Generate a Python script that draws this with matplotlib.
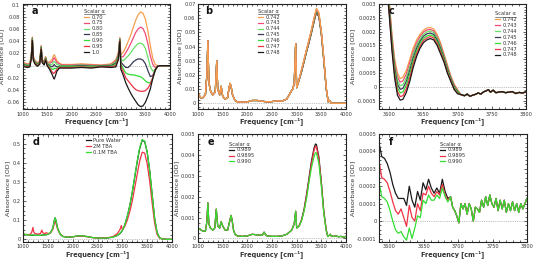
import matplotlib
matplotlib.use('Agg')
import matplotlib.pyplot as plt
from matplotlib.ticker import MultipleLocator, FuncFormatter
from matplotlib.lines import Line2D

# ---------------- Panel a : difference spectra, scalar 0.70 ... 1.0 ----------------
freq_a = [1000,1050,1100,1150,1180,1200,1220,1250,1300,1350,
          1380,1400,1440,1470,1500,1550,1600,1630,1645,1660,
          1700,1750,1800,2000,2200,2400,2600,2800,2900,2950,
          2980,3000,3050,3100,3150,3200,3250,3300,3350,3400,
          3450,3500,3550,3600,3650,3700,3750,3800,4000]
a_070 = [0.008,0.004,0.003,0.004,0.018,0.047,0.015,0.009,0.005,0.008,
         0.033,0.011,0.007,0.015,0.006,0.006,0.010,0.016,0.018,0.016,
         0.008,0.004,0.002,0.002,0.003,0.002,0.001,0.003,0.010,0.022,
         0.046,0.018,0.022,0.030,0.040,0.050,0.062,0.074,0.083,0.088,
         0.086,0.076,0.057,0.033,0.012,0.002,0.0,0.0,0.0]
a_075 = [0.0065,0.003,0.002,0.003,0.017,0.046,0.014,0.008,0.004,0.007,
         0.032,0.010,0.006,0.014,0.005,0.004,0.006,0.011,0.013,0.011,
         0.005,0.003,0.001,0.001,0.002,0.001,0.0005,0.002,0.008,0.020,
         0.045,0.014,0.015,0.021,0.028,0.036,0.045,0.054,0.060,0.063,
         0.061,0.052,0.036,0.016,0.002,-0.003,-0.001,0.0,0.0]
a_080 = [0.005,0.002,0.001,0.002,0.016,0.045,0.013,0.007,0.003,0.006,
         0.031,0.009,0.005,0.013,0.004,0.002,0.002,0.006,0.007,0.006,
         0.002,0.001,0.0,0.0,0.001,0.0,0.0,0.001,0.006,0.018,
         0.044,0.010,0.008,0.012,0.016,0.021,0.027,0.032,0.036,0.037,
         0.035,0.028,0.014,-0.002,-0.009,-0.006,-0.001,0.0,0.0]
a_085 = [0.0035,0.001,0.0,0.001,0.015,0.044,0.012,0.006,0.002,0.005,
         0.030,0.008,0.004,0.012,0.003,0.0,-0.002,0.0,0.002,0.0,
         -0.002,-0.001,-0.001,-0.001,0.0,-0.001,-0.0005,0.0,0.004,0.016,
         0.043,0.006,0.001,-0.003,-0.003,0.001,0.006,0.009,0.011,0.011,
         0.009,0.003,-0.008,-0.018,-0.016,-0.007,-0.001,0.0,0.0]
a_090 = [0.002,0.0,-0.001,0.0,0.014,0.043,0.011,0.005,0.001,0.004,
         0.029,0.007,0.003,0.011,0.002,-0.002,-0.006,-0.006,-0.004,-0.005,
         -0.004,-0.002,-0.002,-0.002,-0.001,-0.002,-0.001,-0.001,0.002,0.014,
         0.042,0.002,-0.005,-0.012,-0.014,-0.015,-0.015,-0.016,-0.017,-0.018,
         -0.021,-0.025,-0.028,-0.028,-0.021,-0.008,-0.001,0.0,0.0]
a_095 = [0.0005,-0.001,-0.002,-0.001,0.013,0.042,0.010,0.004,0.0,0.003,
         0.028,0.006,0.002,0.010,0.001,-0.004,-0.010,-0.013,-0.012,-0.011,
         -0.006,-0.003,-0.003,-0.003,-0.002,-0.003,-0.0015,-0.002,0.0,0.012,
         0.041,-0.002,-0.010,-0.020,-0.025,-0.030,-0.035,-0.039,-0.041,-0.042,
         -0.042,-0.041,-0.037,-0.030,-0.019,-0.007,-0.001,0.0,0.0]
a_100 = [-0.001,-0.002,-0.003,-0.002,0.012,0.041,0.009,0.003,-0.001,0.002,
         0.027,0.005,0.001,0.009,0.0,-0.006,-0.014,-0.020,-0.022,-0.019,
         -0.009,-0.004,-0.004,-0.004,-0.003,-0.004,-0.002,-0.003,-0.002,0.010,
         0.040,-0.006,-0.016,-0.028,-0.037,-0.045,-0.052,-0.058,-0.064,-0.067,
         -0.066,-0.060,-0.050,-0.038,-0.021,-0.007,-0.001,0.0,0.0]
labels_a = ['0.70','0.75','0.80','0.85','0.90','0.95','1.0']

# ---------------- Panel b : scalar 0.742 ... 0.748 ----------------
freq_b_low = [1000,1020,1050,1100,1150,1180,1200,1220,1240,1260,
              1300,1350,1380,1400,1440,1470,1500,1550,1600,1630,
              1650,1670,1700,1750,1800,1900,2000,2100,2200,2300,
              2400,2500,2600,2700,2800,2880,2920,2950,2980]
b_low = [0.008,0.006,0.004,0.004,0.006,0.020,0.044,0.015,0.011,0.008,
         0.006,0.008,0.030,0.010,0.006,0.012,0.005,0.003,0.004,0.011,
         0.014,0.012,0.006,0.002,0.001,0.0008,0.001,0.002,0.002,0.0015,
         0.001,0.0012,0.0018,0.0015,0.003,0.008,0.010,0.014,0.042]
freq_b_high = [3000,3050,3100,3150,3200,3250,3300,3350,3400,3450,
               3500,3550,3600,3640,3660,3680,3700,3750,3800,3900,4000]
b_742 = [0.011,0.0170,0.0240,0.0310,0.0380,0.0450,0.0520,0.0600,0.0670,0.0640,0.0510,0.0320,0.0110,0.001,0.002,0.0015,0.0,0.0,0.0,0.0,0.0]
b_743 = [0.011,0.0169,0.0237,0.0307,0.0377,0.0446,0.0516,0.0595,0.0665,0.0635,0.0506,0.0317,0.0108,0.001,0.002,0.0015,0.0,0.0,0.0,0.0,0.0]
b_744 = [0.011,0.0168,0.0234,0.0304,0.0374,0.0442,0.0512,0.0590,0.0660,0.0630,0.0502,0.0314,0.0106,0.001,0.002,0.0015,0.0,0.0,0.0,0.0,0.0]
b_745 = [0.011,0.0167,0.0231,0.0301,0.0371,0.0438,0.0508,0.0585,0.0655,0.0625,0.0498,0.0311,0.0104,0.001,0.002,0.0015,0.0,0.0,0.0,0.0,0.0]
b_746 = [0.011,0.0166,0.0228,0.0298,0.0368,0.0434,0.0504,0.0580,0.0650,0.0620,0.0494,0.0308,0.0102,0.001,0.002,0.0015,0.0,0.0,0.0,0.0,0.0]
b_747 = [0.011,0.0165,0.0225,0.0295,0.0365,0.0430,0.0500,0.0575,0.0645,0.0615,0.0490,0.0305,0.0100,0.001,0.002,0.0015,0.0,0.0,0.0,0.0,0.0]
b_748 = [0.011,0.0164,0.0222,0.0292,0.0362,0.0426,0.0496,0.0570,0.0640,0.0610,0.0486,0.0302,0.0098,0.001,0.002,0.0015,0.0,0.0,0.0,0.0,0.0]
labels_bc = ['0.742','0.743','0.744','0.745','0.746','0.747','0.748']

# ---------------- Panel c : zoom 3585-3800 ----------------
freq_c_head = [3585,3590,3595,3600,3604,3608,3612,3616,3620,3625,3630,3635,3640,
               3645,3650,3655,3660,3665,3670,3675,3680,3685,3690,3695,3700]
c_742 = [0.0085,0.0065,0.0045,0.0031,0.0019,0.0010,0.0005,0.0003,0.00035,0.0006,0.0010,0.0014,0.0017,
         0.0019,0.00205,0.00213,0.00215,0.0021,0.0019,0.0016,0.0012,0.0008,0.0004,0.0001,-0.0001]
c_743 = [0.00842,0.00642,0.00442,0.00302,0.0018,0.00088,0.00037,0.00017,0.00022,0.00047,0.00087,0.00128,0.0016,
         0.00182,0.00198,0.00206,0.00208,0.00203,0.00183,0.00153,0.00115,0.00075,0.00037,0.00007,-0.00013]
c_744 = [0.00833,0.00633,0.00433,0.00293,0.0017,0.00077,0.00023,0.00004,0.00008,0.00033,0.00073,0.00117,0.0015,
         0.00173,0.0019,0.00199,0.00202,0.00197,0.00177,0.00147,0.0011,0.0007,0.00033,0.00003,-0.00015]
c_745 = [0.00825,0.00625,0.00425,0.00285,0.0016,0.00065,0.0001,-0.00009,-0.00005,0.0002,0.0006,0.00105,0.0014,
         0.00165,0.00183,0.00192,0.00195,0.0019,0.0017,0.0014,0.00105,0.00065,0.0003,0.0,-0.00018]
c_746 = [0.00817,0.00617,0.00417,0.00277,0.0015,0.00053,-0.00003,-0.00022,-0.00018,0.00007,0.00047,0.00093,0.0013,
         0.00157,0.00175,0.00184,0.00188,0.00183,0.00163,0.00133,0.001,0.0006,0.00027,-0.00003,-0.0002]
c_747 = [0.00808,0.00608,0.00408,0.00268,0.0014,0.00042,-0.00017,-0.00035,-0.00032,-0.00007,0.00033,0.00082,0.0012,
         0.00148,0.00168,0.00177,0.00182,0.00177,0.00157,0.00127,0.00095,0.00055,0.00023,-0.00007,-0.00023]
c_748 = [0.0080,0.0060,0.0040,0.0026,0.0013,0.0003,-0.0003,-0.00048,-0.00045,-0.0002,0.0002,0.0007,0.0011,
         0.0014,0.0016,0.0017,0.00175,0.0017,0.0015,0.0012,0.0009,0.0005,0.0002,-0.0001,-0.00025]
freq_c_tail = [3705,3710,3714,3718,3722,3726,3730,3734,3738,3742,3745,3748,
               3752,3756,3760,3765,3770,3775,3780,3785,3790,3795,3800]
c_tail = [-0.00028,-0.00032,-0.00026,-0.00034,-0.0003,-0.00027,-0.00022,-0.00026,-0.00018,-0.00014,-0.0001,-0.00019,
          -0.00012,-0.00021,-0.00019,-0.00017,-0.00021,-0.00019,-0.00017,-0.00024,-0.0002,-0.00022,-0.00018]

# ---------------- Panel d : raw spectra ----------------
freq_d = [1000,1050,1100,1150,1180,1200,1220,1250,1300,1350,
          1380,1400,1440,1470,1500,1550,1600,1630,1645,1660,
          1700,1750,1800,1900,2000,2100,2200,2300,2400,2500,
          2600,2700,2800,2900,2950,2980,3000,3050,3100,3150,
          3200,3250,3300,3350,3400,3450,3500,3550,3600,3650,
          3700,3750,3800,3900,4000]
pure_water = [0.028,0.025,0.023,0.022,0.021,0.021,0.021,0.021,0.021,0.021,
              0.021,0.022,0.023,0.024,0.026,0.033,0.058,0.097,0.112,0.102,
              0.055,0.027,0.015,0.011,0.013,0.018,0.018,0.014,0.009,0.007,
              0.006,0.007,0.011,0.020,0.030,0.038,0.046,0.075,0.120,0.175,
              0.245,0.325,0.405,0.475,0.518,0.510,0.455,0.360,0.235,0.110,
              0.035,0.008,0.002,0.0,0.0]
tba_2M = [0.028,0.025,0.025,0.026,0.040,0.062,0.035,0.030,0.027,0.030,
          0.048,0.033,0.030,0.035,0.030,0.032,0.052,0.082,0.093,0.087,
          0.050,0.027,0.016,0.012,0.013,0.016,0.016,0.013,0.009,0.007,
          0.007,0.008,0.013,0.030,0.050,0.072,0.050,0.068,0.100,0.145,
          0.200,0.270,0.340,0.410,0.455,0.450,0.395,0.305,0.190,0.085,
          0.025,0.006,0.002,0.0,0.0]
tba_01M = [0.028,0.025,0.023,0.022,0.022,0.023,0.022,0.021,0.021,0.021,
           0.022,0.022,0.023,0.024,0.026,0.033,0.058,0.097,0.112,0.102,
           0.055,0.027,0.015,0.011,0.013,0.018,0.018,0.014,0.009,0.007,
           0.006,0.007,0.011,0.020,0.031,0.040,0.047,0.076,0.121,0.176,
           0.247,0.328,0.409,0.479,0.521,0.513,0.457,0.361,0.236,0.110,
           0.035,0.008,0.002,0.0,0.0]
labels_d = ['Pure Water','2M TBA','0.1M TBA']

# ---------------- Panel e : scalar 0.989 ... 0.990 ----------------
freq_e_low = [1000,1050,1100,1150,1180,1200,1220,1250,1300,1340,
              1370,1400,1440,1470,1500,1550,1600,1640,1670,1690,
              1720,1750,1800,1900,2000,2100,2200,2300,2340,2370,
              2400,2500,2600,2700,2800,2900,2950,2980,3000]
e_low = [0.0005,0.00042,0.00035,0.00035,0.0008,0.0017,0.0007,0.0005,0.0004,0.0005,
         0.0014,0.0006,0.0005,0.0008,0.0006,0.0004,0.0004,0.0008,0.0011,0.0009,
         0.0004,0.0002,0.00012,0.0001,0.00012,0.0002,0.00017,0.00015,0.0003,0.00018,
         0.00012,0.0001,0.0001,0.00012,0.0002,0.0004,0.0007,0.0013,0.0005]
freq_e_high = [3050,3100,3150,3200,3250,3300,3350,3380,3400,3450,3500,3550,
               3600,3630,3660,3680,3700,3750,3800,3850,3900,3950,4000]
e_989 = [0.0006,0.0009,0.0014,0.0021,0.0029,0.0037,0.0043,0.00452,0.0045,0.0039,0.0027,0.0013,
         0.0004,0.0001,0.00015,0.0002,0.00012,0.0001,0.00012,0.00008,0.0001,0.00006,0.0001]
e_9895 = [0.0006,0.00088,0.00135,0.00205,0.0028,0.0036,0.0042,0.0044,0.0044,0.0038,0.00265,0.00125,
          0.0004,0.0001,0.00015,0.0002,0.00012,0.0001,0.00012,0.00008,0.0001,0.00006,0.0001]
e_990 = [0.00058,0.00085,0.0013,0.0019,0.0027,0.0034,0.0039,0.0041,0.0041,0.0036,0.0025,0.0012,
         0.00035,0.0001,0.00015,0.0002,0.00012,0.0001,0.00012,0.00008,0.0001,0.00006,0.0001]
labels_ef = ['0.989','0.9895','0.990']

# ---------------- Panel f : zoom 3585-3800 ----------------
freq_f_head = [3586,3589,3593,3597,3601,3605,3609,3613,3617,3621,3625,3629,3633,
               3637,3641,3645,3649,3653,3657,3661,3665,3669,3673,3677,3681,3685]
f_989 = [0.00043,0.00037,0.00036,0.00033,0.00028,0.00021,0.00016,0.00013,0.00013,0.00013,0.00009,0.0002,0.00012,
         0.00008,0.00017,0.00012,0.00022,0.00018,0.00024,0.00019,0.00016,0.00019,0.00016,0.00024,0.00017,0.00013]
f_9895 = [0.00032,0.00025,0.00024,0.00022,0.00017,0.00011,0.00006,0.00004,0.00007,0.00002,-0.00003,0.00009,0.00002,
          0.0,0.0001,0.00006,0.00016,0.00015,0.0002,0.00016,0.00014,0.00017,0.00015,0.00021,0.00015,0.00012]
f_990 = [0.0002,0.00014,0.00013,0.00011,0.00006,0.0,-0.00005,-0.00007,-0.00006,-0.00009,-0.00011,-0.00004,-0.0001,
         -0.00004,0.00003,0.00002,0.00012,0.0001,0.00015,0.00012,0.00012,0.00015,0.00013,0.00019,0.00014,0.00011]
freq_f_tail = [3689,3692,3695,3698,3701,3704,3707,3710,3713,3716,3719,3722,3725,3728,3731,3734,3737,3740,3743,
               3746,3749,3752,3755,3758,3761,3764,3767,3770,3773,3776,3779,3782,3785,3788,3791,3794,3797,3800]
f_tail = [0.00014,0.00008,0.00006,0.00003,-0.00001,0.0001,0.00007,0.0001,0.00004,0.0001,0.00007,0.0,0.00008,
          0.00007,0.00005,0.00012,0.00008,0.00014,0.00009,0.00015,0.0001,0.00008,0.00013,0.00006,0.00012,0.00007,
          0.00012,0.00005,0.0001,0.00006,0.00011,0.00006,0.0001,0.00005,0.0001,0.00007,0.0001,0.00013]

# ---------------- styling ----------------
ORANGE = '#f5a04e'; PINK = '#f04a78'; LGREEN = '#66e066'; NAVY = '#3a3a58'
GREEN = '#33dd33'; RED = '#ee3344'; BLACK = '#1a1a1a'
cols7 = [ORANGE, PINK, LGREEN, NAVY, GREEN, RED, BLACK]
TXT = '#333333'
plt.rcParams['font.family'] = ['DejaVu Sans']
plt.rcParams['axes.edgecolor'] = '#222222'

W, H = 534.0, 263.0
def rect(l, r, t, b):
    return [l / W, 1 - b / H, (r - l) / W, (b - t) / H]

fig = plt.figure(figsize=(5.34, 2.63), dpi=100)

def fmt(v, pos):
    s = '%g' % round(v, 7)
    return '0' if s in ('-0', '0') else s

def style(ax, xlim, ylim, xmaj, xmin, ymaj, ymin, letter, lx=0.065):
    ax.set_xlim(*xlim); ax.set_ylim(*ylim)
    ax.xaxis.set_major_locator(MultipleLocator(xmaj))
    ax.xaxis.set_minor_locator(MultipleLocator(xmin))
    ax.yaxis.set_major_locator(MultipleLocator(ymaj))
    ax.yaxis.set_minor_locator(MultipleLocator(ymin))
    ax.yaxis.set_major_formatter(FuncFormatter(fmt))
    ax.tick_params(which='both', direction='in', top=True, right=True,
                   labelsize=3.6, width=0.5, colors='#222222', labelcolor=TXT, pad=1.8)
    ax.tick_params(which='major', length=2.5)
    ax.tick_params(which='minor', length=1.3)
    for s in ax.spines.values():
        s.set_linewidth(0.8)
    ax.axhline(0, color='#aaaaaa', ls=(0, (1, 1.2)), lw=0.6, zorder=0)
    ax.set_xlabel('Frequency [cm\u207b\u00b9]', fontsize=4.7, color=TXT, labelpad=0.5, fontweight='semibold')
    ax.set_ylabel('Absorbance [OD]', fontsize=4.6, color=TXT, labelpad=1.5)
    ax.text(lx, 0.9, letter, transform=ax.transAxes, fontsize=7, fontweight='bold', color='#111111')

legends = []
def add_legend(ax, x, y, title=None, handles=None):
    kw = dict(loc='upper left', bbox_to_anchor=(x, y), frameon=False, fontsize=3.7,
              title=title, title_fontsize=3.7, handlelength=1.0, handletextpad=0.5,
              labelspacing=0.17, borderaxespad=0, borderpad=0, alignment='left')
    if handles is not None:
        leg = ax.legend(handles=handles, **kw)
    else:
        leg = ax.legend(**kw)
    for t in leg.get_texts():
        t.set_color(TXT)
    if title:
        leg.get_title().set_color(TXT)
        legends.append(leg)
    return leg

TOP1, BOT1 = 4, 109
TOP2, BOT2 = 134, 242

# panel a
ax = fig.add_axes(rect(22.5, 170, TOP1, BOT1))
series_a = [a_070, a_075, a_080, a_085, a_090, a_095, a_100]
for ys, c, lab in zip(series_a, cols7, labels_a):
    ax.plot(freq_a, ys, color=c, lw=0.9, label=lab)
style(ax, (1000, 4000), (-0.071, 0.101), 500, 100, 0.02, 0.005, 'a')
add_legend(ax, 0.415, 0.955, 'Scalar \u03b1')

# panel b
ax = fig.add_axes(rect(198, 346, TOP1, BOT1))
series_b = [b_742, b_743, b_744, b_745, b_746, b_747, b_748]
for ys, c in list(zip(series_b, cols7))[::-1]:
    ax.plot(freq_b_low + freq_b_high, b_low + ys, color=c, lw=0.9)
handles_b = [Line2D([], [], color=c, lw=0.9, label=lab) for c, lab in zip(cols7, labels_bc)]
style(ax, (1000, 4000), (-0.004, 0.070), 500, 100, 0.01, 0.0025, 'b', lx=0.05)
add_legend(ax, 0.405, 0.955, 'Scalar \u03b1', handles=handles_b)

# panel c
ax = fig.add_axes(rect(379, 526, TOP1, BOT1))
series_c = [c_742, c_743, c_744, c_745, c_746, c_747, c_748]
for ys, c, lab in zip(series_c, cols7, labels_bc):
    ax.plot(freq_c_head + freq_c_tail, ys + c_tail, color=c, lw=0.9, label=lab)
style(ax, (3585, 3800), (-0.0008, 0.003), 50, 10, 0.0005, 0.0001, 'c')
add_legend(ax, 0.79, 0.93, 'Scalar \u03b1')

# panel d
ax = fig.add_axes(rect(23, 172, TOP2, BOT2))
for ys, c, lab in zip([pure_water, tba_2M, tba_01M], [BLACK, RED, GREEN], labels_d):
    ax.plot(freq_d, ys, color=c, lw=0.9, label=lab)
style(ax, (1000, 4000), (-0.014, 0.55), 500, 100, 0.1, 0.025, 'd')
add_legend(ax, 0.42, 0.965)

# panel e
ax = fig.add_axes(rect(198, 346, TOP2, BOT2))
for ys, c, lab in zip([e_989, e_9895, e_990], [BLACK, RED, GREEN], labels_ef):
    ax.plot(freq_e_low + freq_e_high, e_low + ys, color=c, lw=0.9, label=lab)
style(ax, (1000, 4000), (-0.00017, 0.005), 500, 100, 0.001, 0.00025, 'e')
add_legend(ax, 0.21, 0.93, 'Scalar \u03b1')

# panel f
ax = fig.add_axes(rect(379, 527, TOP2, BOT2))
for ys, c, lab in zip([f_989, f_9895, f_990], [BLACK, RED, GREEN], labels_ef):
    ax.plot(freq_f_head + freq_f_tail, ys + f_tail, color=c, lw=0.9, label=lab)
style(ax, (3585, 3800), (-0.00012, 0.0005), 50, 10, 0.0001, 0.000025, 'f')
add_legend(ax, 0.41, 0.93, 'Scalar \u03b1')

# underline legend titles
fig.canvas.draw()
for leg in legends:
    bb = leg.get_title().get_window_extent()
    y = bb.y0 - 0.3
    fig.add_artist(Line2D([bb.x0 / W, bb.x1 / W], [y / H, y / H], color=TXT, lw=0.4,
                          transform=fig.transFigure))

fig.savefig('out.png', dpi=100)
